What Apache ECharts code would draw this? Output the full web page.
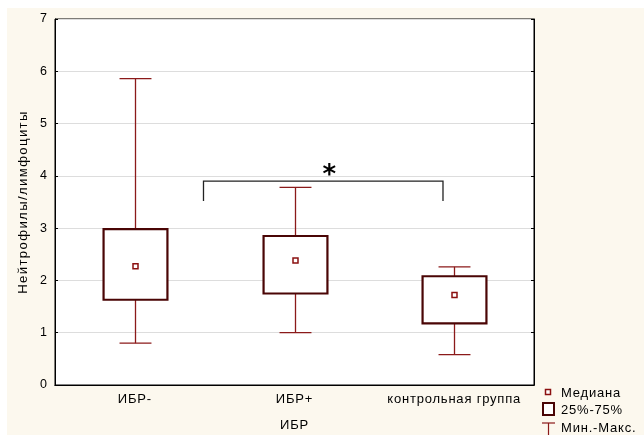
<!DOCTYPE html>
<html><head><meta charset="utf-8">
<script src="https://cdn.jsdelivr.net/npm/echarts@6/dist/echarts.min.js"></script>
<style>html,body{margin:0;padding:0;background:#fff}#c{width:644px;height:435px}</style>
</head><body><div id="c"></div>
<script>
const categories = ['ИБР-', 'ИБР+', 'контрольная группа'];
const mins    = [0.80, 1.00, 0.58];
const q1s     = [1.63, 1.75, 1.18];
const medians = [2.27, 2.38, 1.72];
const q3s     = [2.98, 2.85, 2.08];
const maxs    = [5.86, 3.78, 2.26];
const yTicks  = [0, 1, 2, 3, 4, 5, 6, 7];
// significance bracket between groups (category index range, value levels)
const bracket = { from: 0.43, to: 1.93, top: 3.9, bottom: 3.52, label: '*' };

// letter spacing per font size (emulates the slightly wide spacing of the original rendering)
(function () {
  const P = CanvasRenderingContext2D.prototype;
  if (!('letterSpacing' in P)) return;
  function sp(font) {
    if (/13\.1px/.test(font)) return '1.4px';
    if (/(^|\s)13px/.test(font)) return '0.8px';
    return '0px';
  }
  ['fillText', 'strokeText', 'measureText'].forEach(function (fn) {
    const orig = P[fn];
    P[fn] = function () { this.letterSpacing = sp(this.font); return orig.apply(this, arguments); };
  });
})();

const FONT = 'Liberation Sans, Arial, sans-serif';
const boxData = categories.map((c, i) => [i, mins[i], q1s[i], medians[i], q3s[i], maxs[i]]);

const chart = echarts.init(document.getElementById('c'), null, { renderer: 'canvas' });
chart.setOption({
  animation: false,
  backgroundColor: 'transparent',
  graphic: [
    { type: 'rect', z: -10, shape: { x: 7, y: 8, width: 640, height: 430 }, style: { fill: '#fcf8ee' } },
    // legend
    { type: 'rect', shape: { x: 545.5, y: 389.5, width: 5, height: 5 }, style: { fill: '#fff', stroke: '#8b1010', lineWidth: 1.5 } },
    { type: 'text', style: { x: 561, y: 393, text: 'Медиана', font: '13px ' + FONT, fill: '#000', verticalAlign: 'middle' } },
    { type: 'rect', shape: { x: 543, y: 403, width: 11, height: 12 }, style: { fill: '#fff', stroke: '#4a0505', lineWidth: 2 } },
    { type: 'text', style: { x: 561, y: 410, text: '25%-75%', font: '13px ' + FONT, fill: '#000', verticalAlign: 'middle' } },
    { type: 'polyline', shape: { points: [[548.5, 423], [548.5, 436]] }, style: { stroke: '#8b1a1a', lineWidth: 1.2 } },
    { type: 'polyline', shape: { points: [[542, 423], [555, 423]] }, style: { stroke: '#8b1a1a', lineWidth: 1.2 } },
    { type: 'text', style: { x: 561, y: 428, text: 'Мин.-Макс.', font: '13px ' + FONT, fill: '#000', verticalAlign: 'middle' } }
  ],
  grid: { left: 55, right: 110, top: 19, bottom: 50, show: true, backgroundColor: '#fff',
    borderColor: '#000', borderWidth: 1, containLabel: false, outerBoundsMode: 'none' },
  xAxis: [{
    type: 'category', data: categories, position: 'bottom',
    name: 'ИБР', nameLocation: 'middle', nameGap: 34, nameMoveOverlap: false,
    nameTextStyle: { fontFamily: FONT, fontSize: 13, color: '#000' },
    axisLine: { lineStyle: { color: '#000', width: 1 } },
    axisTick: { inside: true, alignWithLabel: true, length: 3, lineStyle: { color: '#000' } },
    axisLabel: { interval: 0, fontFamily: FONT, fontSize: 13, color: '#000', margin: 8 },
    splitLine: { show: false }
  }, {
    type: 'category', data: categories, position: 'top',
    axisLine: { lineStyle: { color: '#000' } },
    axisTick: { inside: true, alignWithLabel: true, length: 3, lineStyle: { color: '#000' } },
    axisLabel: { show: false }
  }],
  yAxis: [{
    type: 'value', min: 0, max: 7, interval: 1, position: 'left',
    name: 'Нейтрофилы/лимфоциты', nameLocation: 'middle', nameGap: 24, nameMoveOverlap: false,
    nameTextStyle: { fontFamily: FONT, fontSize: 13.1, color: '#000' },
    axisLine: { show: true, lineStyle: { color: '#000', width: 1 } },
    axisTick: { show: true, inside: true, length: 3, lineStyle: { color: '#000' } },
    axisLabel: { fontFamily: FONT, fontSize: 12.5, color: '#000', margin: 8,
      formatter: v => yTicks.includes(v) ? String(v) : '' },
    splitLine: { show: true, lineStyle: { color: '#dddddd', width: 1 } }
  }, {
    type: 'value', min: 0, max: 7, interval: 1, position: 'right',
    axisLine: { show: true, lineStyle: { color: '#000' } },
    axisTick: { show: true, inside: true, length: 3, lineStyle: { color: '#000' } },
    axisLabel: { show: false }, splitLine: { show: false }
  }],
  series: [{
    type: 'custom',
    data: boxData,
    encode: { x: 0, y: [1, 2, 3, 4, 5] },
    renderItem: function (params, api) {
      const i = api.value(0);
      const band = api.size([1, 0])[0];
      const bw = band * 0.4, cw = band * 0.2;
      const pMin = api.coord([i, api.value(1)]);
      const pQ1 = api.coord([i, api.value(2)]);
      const pMed = api.coord([i, api.value(3)]);
      const pQ3 = api.coord([i, api.value(4)]);
      const pMax = api.coord([i, api.value(5)]);
      const x = Math.round(pMin[0]) + 0.5;
      const wStyle = { stroke: '#8b1a1a', lineWidth: 1.3, fill: null };
      return { type: 'group', children: [
        { type: 'line', shape: { x1: x, y1: pMax[1], x2: x, y2: pQ3[1] }, style: wStyle },
        { type: 'line', shape: { x1: x, y1: pQ1[1], x2: x, y2: pMin[1] }, style: wStyle },
        { type: 'line', shape: { x1: x - cw / 2, y1: pMax[1], x2: x + cw / 2, y2: pMax[1] }, style: wStyle },
        { type: 'line', shape: { x1: x - cw / 2, y1: pMin[1], x2: x + cw / 2, y2: pMin[1] }, style: wStyle },
        { type: 'rect', shape: { x: x - bw / 2, y: pQ3[1], width: bw, height: pQ1[1] - pQ3[1] },
          style: { fill: '#fff', stroke: '#4a0505', lineWidth: 2.2 } },
        { type: 'rect', shape: { x: x - 2.5, y: pMed[1] - 2.5, width: 5, height: 5 },
          style: { fill: '#fff', stroke: '#8b1010', lineWidth: 1.5 } }
      ]};
    }
  }, {
    type: 'custom',
    data: [[bracket.from, bracket.to, bracket.top, bracket.bottom]],
    renderItem: function (params, api) {
      const band = api.size([1, 0])[0];
      const c0 = api.coord([0, api.value(2)]);
      const x1 = c0[0] + api.value(0) * band;
      const x2 = c0[0] + api.value(1) * band;
      const yTop = c0[1];
      const yBot = api.coord([0, api.value(3)])[1];
      return { type: 'group', children: [
        { type: 'polyline', shape: { points: [[x1, yBot], [x1, yTop], [x2, yTop], [x2, yBot]] },
          style: { stroke: '#222', lineWidth: 1.3, fill: null } },
        { type: 'text', style: { x: (x1 + x2) / 2 + 6, y: yTop - 5, text: bracket.label,
          font: 'bold 26px DejaVu Sans', fill: '#000', align: 'center', verticalAlign: 'middle' } }
      ]};
    }
  }]
});
</script></body></html>
